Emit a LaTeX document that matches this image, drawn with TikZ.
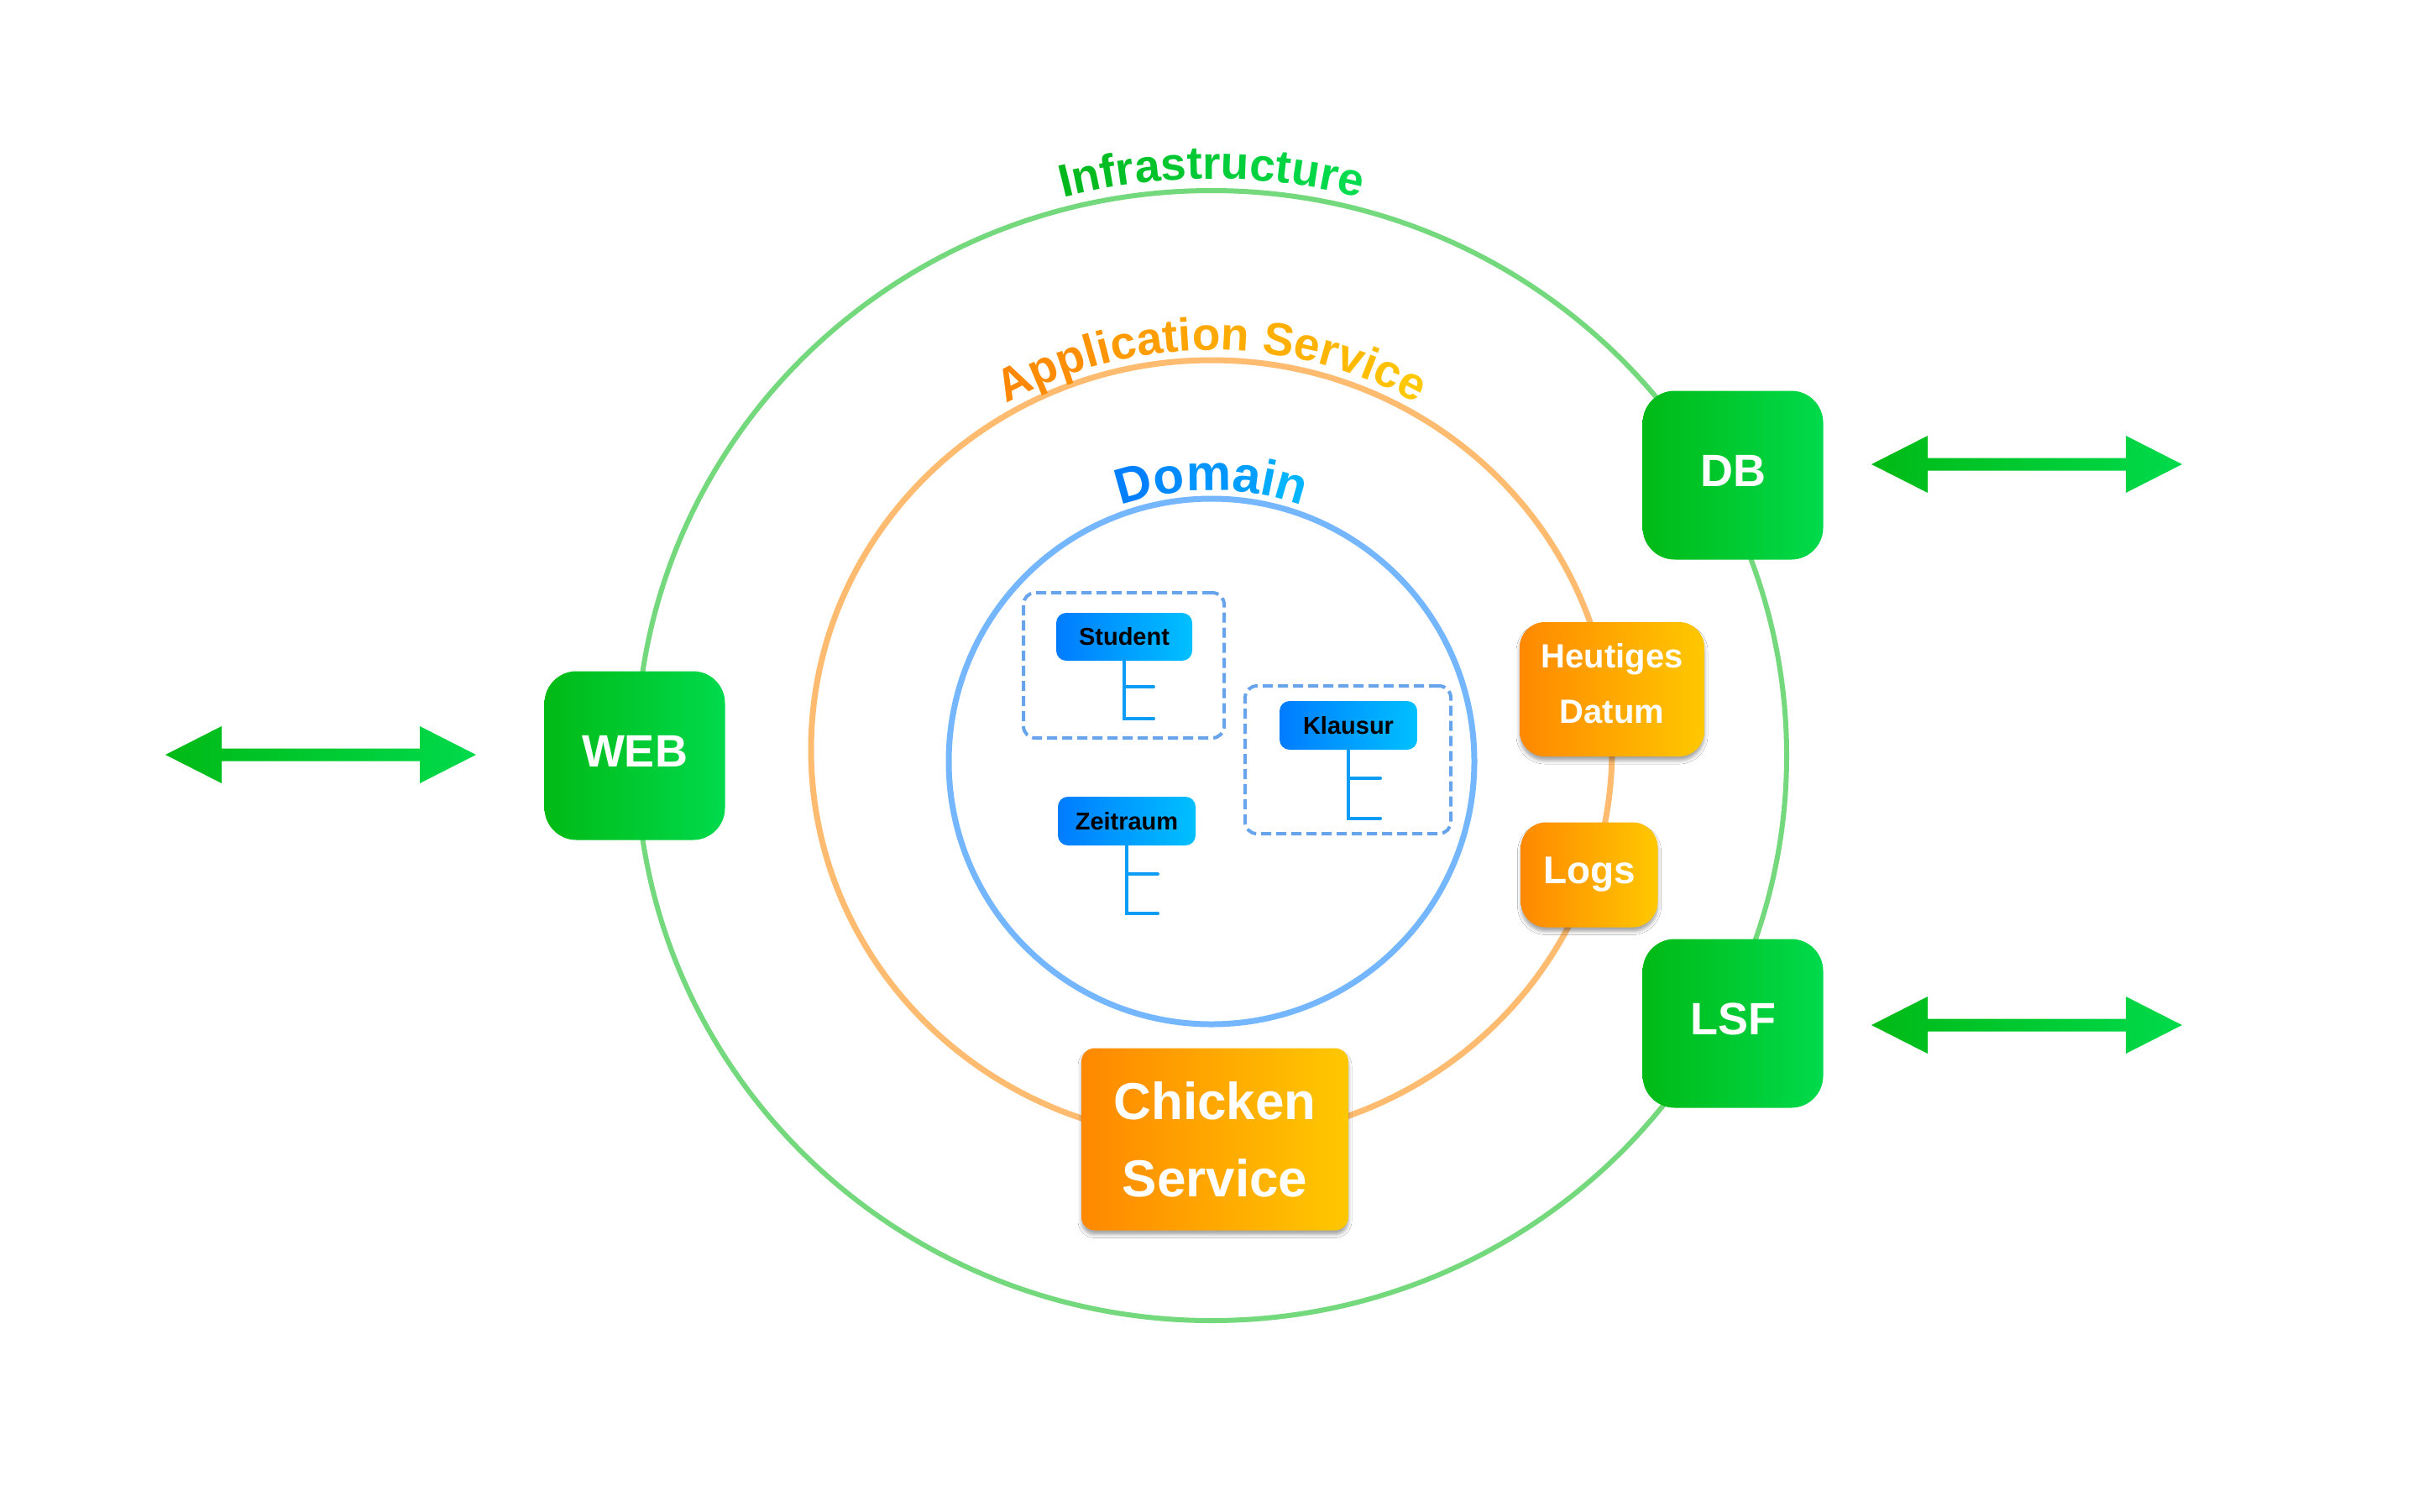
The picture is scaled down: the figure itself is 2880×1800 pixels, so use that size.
\documentclass[tikz,border=0pt]{standalone}
\usepackage{fontspec}
\setmainfont{Liberation Sans}
\usetikzlibrary{shadows.blur,decorations.text,calc}

\definecolor{gA}{RGB}{0,186,22}
\definecolor{gB}{RGB}{0,218,76}
\definecolor{oA}{RGB}{255,136,0}
\definecolor{oB}{RGB}{255,200,0}
\definecolor{bA}{RGB}{0,124,255}
\definecolor{bB}{RGB}{0,192,255}
\definecolor{ringG}{RGB}{116,216,124}
\definecolor{ringO}{RGB}{255,188,112}
\definecolor{ringB}{RGB}{116,182,255}
\definecolor{dashB}{RGB}{104,164,236}
\definecolor{treeB}{RGB}{14,156,246}
\definecolor{tgA}{RGB}{0,184,28}
\definecolor{tgB}{RGB}{0,220,78}
\definecolor{toA}{RGB}{255,136,0}
\definecolor{toB}{RGB}{255,200,0}
\definecolor{tbA}{RGB}{0,128,255}
\definecolor{tbB}{RGB}{0,180,255}

\newcommand\icf[1]{\fontsize{55}{60}\bfseries\color{tgA!#1!tgB}}
\newcommand\acf[1]{\fontsize{55}{60}\bfseries\color{toA!#1!toB}}
\newcommand\dcf[1]{\fontsize{60}{66}\bfseries\color{tbA!#1!tbB}}

\newcommand\garrow[2]{%
  \shade[left color=gA, right color=gB] (#1) -- ($(#1)+(67,-34)$) -- ($(#1)+(67,-7.5)$)
    -- ($(#2)+(-67,-7.5)$) -- ($(#2)+(-67,-34)$) -- (#2) -- ($(#2)+(-67,34)$)
    -- ($(#2)+(-67,7.5)$) -- ($(#1)+(67,7.5)$) -- ($(#1)+(67,34)$) -- cycle;}

\begin{document}
\begin{tikzpicture}[x=1pt,y=-1pt,
  greenbox/.style={rounded corners=38pt, minimum width=215pt, minimum height=201pt, inner sep=0pt,
    left color=gA, right color=gB, text=white, font=\fontsize{54}{60}\bfseries, text depth=11pt},
  orangebox/.style={rounded corners=30pt, inner sep=0pt, left color=oA, right color=oB,
    text=white, align=center,
    blur shadow={shadow xshift=0pt, shadow yshift=-5pt, shadow blur radius=4pt, shadow opacity=35}},
  entity/.style={rounded corners=12pt, minimum width=162pt, minimum height=57pt, inner sep=0pt,
    left color=bA, right color=bB, text=black, font=\fontsize{29}{34}\bfseries},
  groupbox/.style={draw=dashB, line width=4pt, dash pattern=on 12pt off 6pt,
    rounded corners=14pt, inner sep=0pt},
  treeline/.style={draw=treeB, line width=4pt, line cap=round},
  ring/.style={line width=6pt}
]
\useasboundingbox (0,0) rectangle (2880,1800);
\fill[white] (0,0) rectangle (2880,1800);

% rings
\coordinate (cg) at (1443,900);
\coordinate (co) at (1443,893);
\coordinate (cb) at (1443,907);
\draw[ring, ringG] (cg) ellipse [x radius=685, y radius=673];
\draw[ring, ringO, line width=7pt] (co) ellipse [x radius=477, y radius=464];
\draw[ring, ringB, line width=7pt] (cb) circle [radius=313];

% ring labels
\path[decorate, decoration={text along path, text align=center,
  text={|\icf{100}|I|\icf{92}|n|\icf{85}|f|\icf{77}|r|\icf{69}|a|\icf{62}|s|\icf{54}|t|\icf{46}|r|\icf{38}|u|\icf{31}|c|\icf{23}|t|\icf{15}|u|\icf{8}|r|\icf{0}|e}}]
  (cg) ++(225:698 and 687) arc[start angle=225, end angle=315, x radius=698, y radius=687];
\path[decorate, decoration={text along path, text align=center,
  text={|\acf{100}|A|\acf{94}|p|\acf{89}|p|\acf{83}|l|\acf{78}|i|\acf{72}|c|\acf{67}|a|\acf{61}|t|\acf{56}|i|\acf{50}|o|\acf{44}|n |\acf{39}|S|\acf{33}|e|\acf{28}|r|\acf{22}|v|\acf{17}|i|\acf{11}|c|\acf{0}|e}}]
  (co) ++(215:489 and 476) arc[start angle=215, end angle=325, x radius=489, y radius=476];
\path[decorate, decoration={text along path, text align=center,
  text={|\dcf{100}|D|\dcf{80}|o|\dcf{60}|m|\dcf{40}|a|\dcf{20}|i|\dcf{0}|n}}]
  (cb) ++(225:323 and 323) arc[start angle=225, end angle=315, x radius=323, y radius=323];

% domain content
\node[groupbox, minimum width=239pt, minimum height=173pt] (g1) at (1338.5,792.5) {};
\node[groupbox, minimum width=245pt, minimum height=176pt] (g2) at (1605.5,905) {};
\coordinate (ts) at (1339,787);
\coordinate (tk) at (1606,893);
\coordinate (tz) at (1342,1007);
\draw[treeline] (ts) -- ++(0,69) -- ++(35,0);
\draw[treeline] ($(ts)+(0,31)$) -- ++(35,0);
\draw[treeline] (tk) -- ++(0,82) -- ++(38,0);
\draw[treeline] ($(tk)+(0,34)$) -- ++(38,0);
\draw[treeline] (tz) -- ++(0,81) -- ++(37,0);
\draw[treeline] ($(tz)+(0,34)$) -- ++(37,0);
\node[entity] (student) at (1339,758.5) {Student};
\node[entity, minimum width=164pt, minimum height=58pt] (klausur) at (1606,864) {Klausur};
\node[entity, minimum width=164pt, minimum height=58pt] (zeit) at (1342,978) {Zeitraum};

% application service boxes
\node[orangebox, minimum width=220pt, minimum height=160pt, font=\fontsize{40}{66}\bfseries, text depth=14pt] (heute) at (1920,821) {Heutiges\\Datum};
\node[orangebox, minimum width=163pt, minimum height=125pt, font=\fontsize{46}{50}\bfseries] (logs) at (1893,1042) {Logs};
\node[orangebox, rounded corners=16pt, minimum width=318pt, minimum height=217pt, font=\fontsize{62}{92}\bfseries] (chicken) at (1447,1357) {Chicken\\Service};

% infrastructure boxes
\node[greenbox] (web) at (756,900) {WEB};
\node[greenbox] (db) at (2064,566) {DB};
\node[greenbox] (lsf) at (2064,1219) {LSF};

% arrows
\coordinate (wl) at (197,899);
\coordinate (wr) at (567,899);
\coordinate (dl) at (2229,553);
\coordinate (dr) at (2599,553);
\coordinate (ll) at (2229,1221);
\coordinate (lr) at (2599,1221);
\garrow{wl}{wr}
\garrow{dl}{dr}
\garrow{ll}{lr}
\end{tikzpicture}
\end{document}
